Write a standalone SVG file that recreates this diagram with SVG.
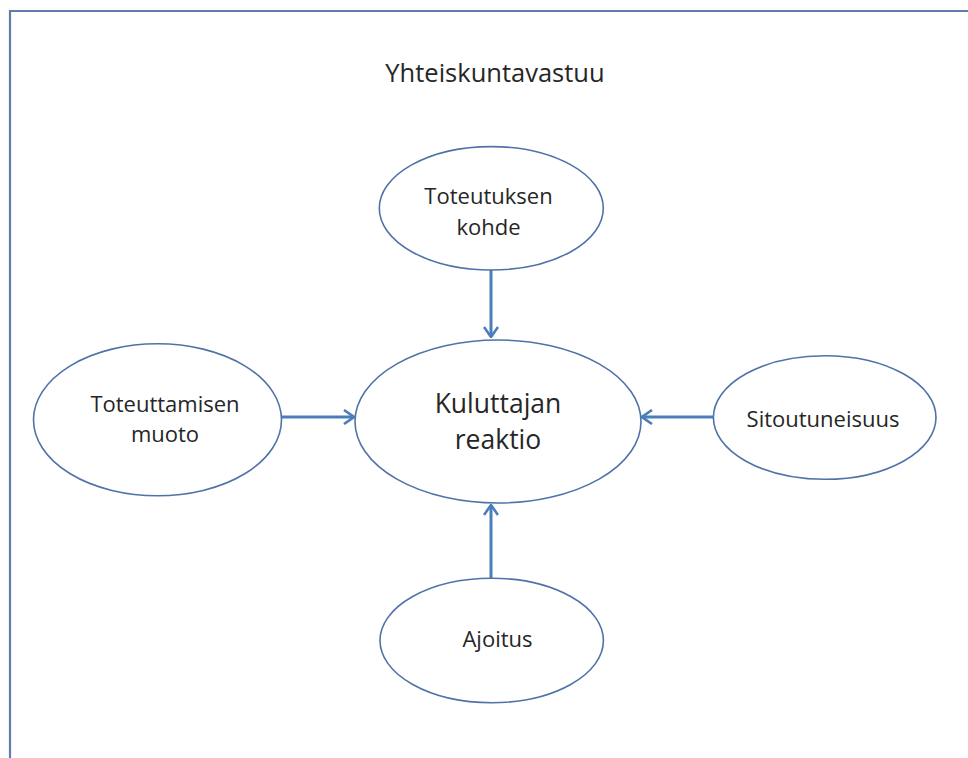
<svg xmlns="http://www.w3.org/2000/svg" width="968" height="758" viewBox="0 0 968 758">
<style>
.node ellipse{fill:#ffffff;stroke:#4f73a8;stroke-width:1.6}
text{font-family:"Open Sans","Liberation Sans",Arial,sans-serif;fill:#262626;text-anchor:middle}
.lbl{font-size:22px}
.big{font-size:26.5px}
.conn line{stroke:#4a7ebb;stroke-width:3;fill:none}
</style>
<defs>
<marker id="arr" viewBox="0 0 12 16" refX="11" refY="8" markerWidth="12" markerHeight="16" markerUnits="userSpaceOnUse" orient="auto">
<path d="M1,1 L11,8 L1,15" fill="none" stroke="#4a7ebb" stroke-width="2.6" stroke-linejoin="miter"/>
</marker>
</defs>
<rect width="968" height="758" fill="#ffffff"/>
<path d="M10,770 V11 H980" fill="none" stroke="#5f7eae" stroke-width="2.2"/>
<text x="495" y="82" font-size="25.5">Yhteiskuntavastuu</text>
<g class="conn">
<line x1="491" y1="270" x2="491" y2="337" marker-end="url(#arr)"/>
<line x1="491" y1="578" x2="491" y2="505" marker-end="url(#arr)"/>
<line x1="282" y1="417" x2="354" y2="417" marker-end="url(#arr)"/>
<line x1="713" y1="417" x2="642" y2="417" marker-end="url(#arr)"/>
</g>
<g id="n-kuluttajan" class="node">
<ellipse cx="498" cy="421.5" rx="143" ry="81.5"/>
<text class="big" x="498" y="413">Kuluttajan</text>
<text class="big" x="498" y="448.5">reaktio</text>
</g>
<g id="n-toteutuksen" class="node">
<ellipse cx="491.3" cy="208.3" rx="112" ry="61.7"/>
<text class="lbl" x="488.5" y="203.5">Toteutuksen</text>
<text class="lbl" x="488.5" y="235">kohde</text>
</g>
<g id="n-toteuttamisen" class="node">
<ellipse cx="157.5" cy="419.8" rx="124" ry="76"/>
<text class="lbl" x="165" y="411.7">Toteuttamisen</text>
<text class="lbl" x="165" y="441.7">muoto</text>
</g>
<g id="n-sitoutuneisuus" class="node">
<ellipse cx="824.7" cy="417.5" rx="111.3" ry="61.8"/>
<text class="lbl" x="823" y="427.3">Sitoutuneisuus</text>
</g>
<g id="n-ajoitus" class="node">
<ellipse cx="491.7" cy="640.5" rx="111.7" ry="62.2"/>
<text class="lbl" x="497.5" y="647.3">Ajoitus</text>
</g>
</svg>
